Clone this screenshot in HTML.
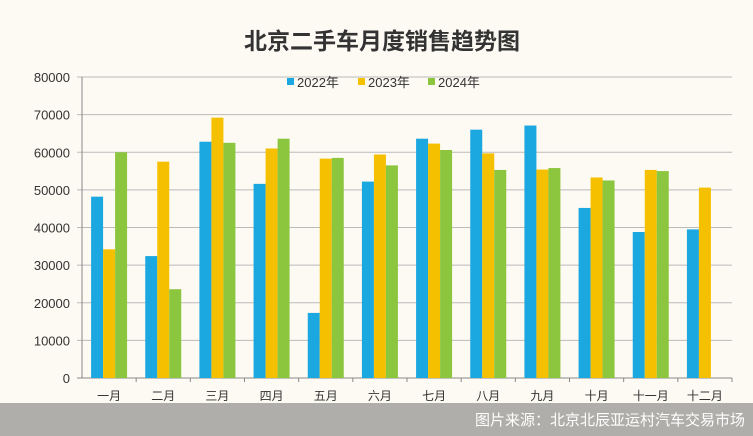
<!DOCTYPE html>
<html><head><meta charset="utf-8"><style>
body{margin:0;background:#fdfaf3;}
svg{display:block;font-family:"Liberation Sans","Noto Sans CJK SC",sans-serif;}
</style></head><body>
<svg id="c" width="753" height="436">
<rect width="753" height="436" fill="#fdfaf3"/>
<text x="382" y="49" text-anchor="middle" font-size="23" font-weight="bold" fill="#333">北京二手车月度销售趋势图</text>
<g id="grid"></g><g id="bars"></g><g id="axes"></g>
<g font-size="13" fill="#333">
<rect x="287" y="78" width="7" height="7" fill="#1ba7e0"/><text x="297" y="87">2022年</text>
<rect x="358" y="78" width="7" height="7" fill="#f5c000"/><text x="368" y="87">2023年</text>
<rect x="428" y="78" width="7" height="7" fill="#8cc63f"/><text x="438" y="87">2024年</text>
</g>
<rect x="0" y="403" width="753" height="33" fill="#b0aeaa"/>
<text x="745" y="425" text-anchor="end" font-size="15" fill="#fff">图片来源：北京北辰亚运村汽车交易市场</text>
</svg>
<script>
const categories=["一月","二月","三月","四月","五月","六月","七月","八月","九月","十月","十一月","十二月"];
const s2022=[48200,32400,62800,51600,17300,52200,63600,66000,67100,45200,38800,39500];
const s2023=[34200,57500,69200,61000,58300,59400,62300,59700,55400,53300,55300,50600];
const s2024=[60000,23600,62500,63600,58500,56500,60600,55300,55800,52500,55000,null];
const yTicks=[0,10000,20000,30000,40000,50000,60000,70000,80000];
const NS="http://www.w3.org/2000/svg";
const L=82,R=732,T=77,B=378,max=80000;
const cw=(R-L)/categories.length;
const y=v=>B-(v/max)*(B-T);
const x=i=>L+cw*i+cw/2;
function mk(p,t,a){const e=document.createElementNS(NS,t);for(const k in a)e.setAttribute(k,a[k]);p.appendChild(e);return e;}
const grid=document.getElementById('grid'),bars=document.getElementById('bars'),axes=document.getElementById('axes');
yTicks.forEach(v=>{
 const l=mk(grid,'line',{x1:L-5,x2:R,y1:y(v),y2:y(v),stroke:v?'#bbb':'#888','stroke-width':1});
 
 
 const t=mk(axes,'text',{x:L-12,y:y(v)+5,'text-anchor':'end','font-size':13,fill:'#333'});
 t.textContent=v;
 
 
});
mk(axes,'line',{x1:L,x2:L,y1:T,y2:B,stroke:'#888'});
const series=[[s2022,'#1ba7e0'],[s2023,'#f5c000'],[s2024,'#8cc63f']];
const bw=12;
categories.forEach((c,i)=>{
 series.forEach(([d,col],j)=>{
  if(d[i]==null)return;
  const r=mk(bars,'rect',{x:x(i)-18+j*bw,y:y(d[i]),width:bw,height:B-y(d[i]),fill:col});
  
  
 });
 mk(axes,'line',{x1:L+cw*(i+1),x2:L+cw*(i+1),y1:B,y2:B+4,stroke:'#888'});
 const t=mk(axes,'text',{x:x(i),y:B+22,'text-anchor':'middle','font-size':12,fill:'#333'});
 t.textContent=c;
 
 
});
</script>
</body></html>
